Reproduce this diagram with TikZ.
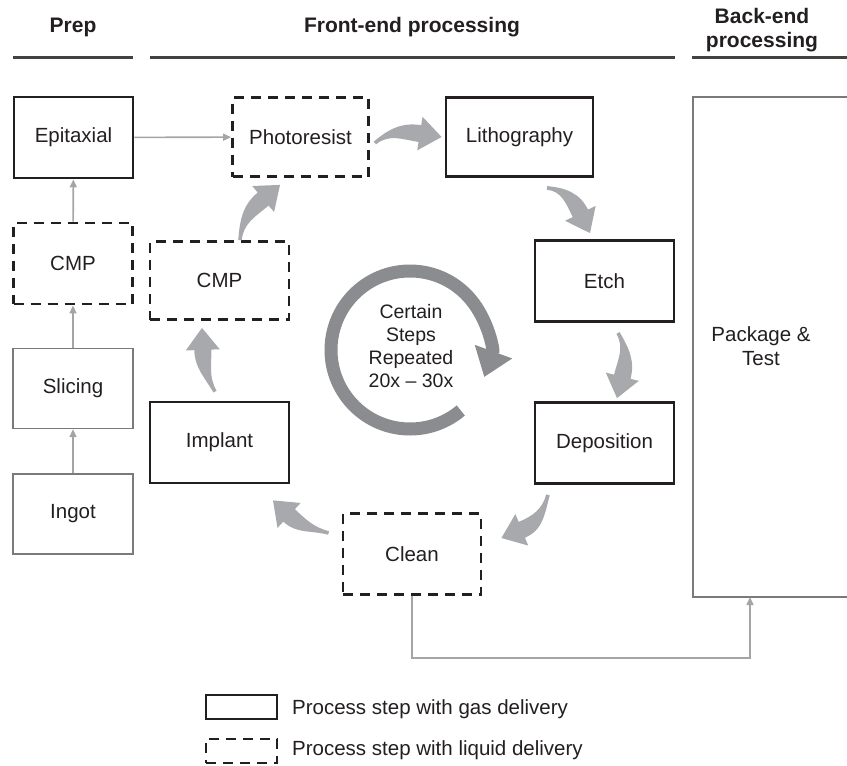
\documentclass[tikz,border=0pt]{standalone}
\usepackage{fontspec}
\setmainfont{Liberation Sans}
\usetikzlibrary{arrows.meta,calc}
\definecolor{boxblack}{HTML}{231F20}
\definecolor{fatgray}{HTML}{A7A9AC}
\definecolor{ringgray}{HTML}{8A8C8F}
\definecolor{thingray}{HTML}{A5A5A5}
\definecolor{boxgray}{HTML}{7A7A7A}
% tapered curved arrow: tail, tip, out angle, in angle
\newcommand{\fatarrow}[4]{%
  \fill[fatgray] ($#1+({#3+90}:1.8)$) to[out=#3,in=#4]
    ($#2+(#4:22)+({#4-90}:8.5)$) -- ($#2+(#4:22)+({#4-90}:17)$) -- #2 --
    ($#2+(#4:22)+({#4+90}:17)$) -- ($#2+(#4:22)+({#4+90}:8.5)$)
    to[out=#4,in=#3] ($#1+({#3-90}:1.8)$) -- cycle;}
\begin{document}
\begin{tikzpicture}[x=1pt,y=1pt,
  every node/.style={font=\fontsize{20.5}{24}\selectfont, text=boxblack, inner sep=0pt},
  gasbox/.style={draw=boxblack, line width=2.8pt, minimum width=139pt, minimum height=81pt},
  liqbox/.style={draw=boxblack, line width=2.8pt, dash pattern=on 10pt off 7pt, minimum width=139pt, minimum height=81pt},
  plainbox/.style={draw=boxgray, line width=1.3pt, minimum width=120pt, minimum height=80pt},
  header/.style={font=\fontsize{21}{24}\selectfont\bfseries, align=center},
  thinarrow/.style={draw=thingray, line width=1.6pt, -{Triangle[length=8pt,width=7pt]}},
  hline/.style={draw=boxblack!85, line width=2.2pt},
]
\useasboundingbox (0,0) rectangle (847,-766);

% headers
\node[header, anchor=base] (hprep) at (73,-32) {Prep};
\node[header, anchor=base] (hfront) at (412,-32) {Front-end processing};
\node[header] (hback) at (762,-30.6) {Back-end\\processing};
\draw[hline] (13,-57.5) -- (133,-57.5);
\draw[hline] (150,-57.5) -- (675,-57.5);
\draw[hline] (692,-57.5) -- (847,-57.5);

% prep column
\node[gasbox, minimum width=119pt] (epi) at (73.5,-137.5) {Epitaxial};
\node[liqbox, minimum width=119pt] (cmpp) at (73,-263.5) {CMP};
\node[plainbox] (slicing) at (73,-388.5) {Slicing};
\node[plainbox] (ingot) at (73,-514) {Ingot};

% front-end loop
\node[liqbox, minimum width=136pt, minimum height=79pt] (photo) at (300.5,-137) {Photoresist};
\node[gasbox, minimum width=147pt, minimum height=79pt] (litho) at (519.5,-137) {Lithography};
\node[gasbox] (etch) at (604.5,-281) {Etch};
\node[gasbox] (depo) at (604.5,-443) {Deposition};
\node[liqbox, minimum width=138pt] (clean) at (412,-554) {Clean};
\node[gasbox] (implant) at (219.5,-442.5) {Implant};
\node[liqbox, minimum height=78pt] (cmpf) at (219.5,-280.5) {CMP};

% back-end
\node[draw=boxgray, line width=1.3pt, outer sep=0pt, anchor=north west,
      minimum width=200pt, minimum height=500pt] (pkgbox) at (693,-97) {};
\node[align=center] (pkg) at (761,-346) {Package \&\\Test};

% thin connectors
\draw[thinarrow] (ingot) -- (slicing);
\draw[thinarrow] (slicing) -- (cmpp);
\draw[thinarrow] (cmpp) -- (epi);
\draw[thinarrow] (epi) -- (photo);
\coordinate (pkgin) at ($(pkgbox.south west)+(57,0)$);
\draw[thinarrow] (clean.south) |- ($(pkgin)+(0,-61)$) -- (pkgin);

% tapered process-flow arrows
\coordinate (t1) at ($(photo.east)+(5,-6)$);     \coordinate (h1) at ($(litho.west)+(-3,0)$);
\coordinate (t2) at ($(litho.south)+(27.5,-10)$); \coordinate (h2) at ($(etch.north)+(-14.5,6)$);
\coordinate (t3) at ($(etch.south)+(13.5,-10)$);  \coordinate (h3) at ($(depo.north)+(12.5,3)$);
\coordinate (t4) at ($(depo.south)+(-56.5,-10)$); \coordinate (h4) at ($(clean.east)+(19,16)$);
\coordinate (t5) at ($(clean.west)+(-13,21)$);    \coordinate (h5) at ($(implant.south)+(53.5,-16)$);
\coordinate (t6) at ($(implant.north)+(-4.5,9)$); \coordinate (h6) at ($(cmpf.south)+(-17.5,-7)$);
\coordinate (t7) at ($(cmpf.north)+(20.5,0)$);    \coordinate (h7) at ($(photo.south)+(-20.5,-7)$);
\fatarrow{(t1)}{(h1)}{40}{171}
\fatarrow{(t2)}{(h2)}{-5}{116}
\fatarrow{(t3)}{(h3)}{-60}{76}
\fatarrow{(t4)}{(h4)}{-105}{22}
\fatarrow{(t5)}{(h5)}{165}{-43}
\fatarrow{(t6)}{(h6)}{120}{-88}
\fatarrow{(t7)}{(h7)}{85}{220}

% repeat cycle
\node[align=center, font=\fontsize{19.5}{23.3}\selectfont] (rep) at (411,-346)
  {Certain\\Steps\\Repeated\\20x – 30x};
\coordinate (ringc) at (410,-350);
\draw[ringgray, line width=13pt, -{Triangle[length=27pt,width=38pt]}]
  ($(ringc)+(-50:79)$) arc[start angle=-50, end angle=-380, radius=79];

% legend
\node[gasbox, line width=2.4pt, minimum width=71pt, minimum height=24pt] (lg1) at (241.5,-707) {};
\node[liqbox, line width=2.4pt, minimum width=71pt, minimum height=24pt] (lg2) at (241.5,-751) {};
\node[anchor=base west] (lt1) at (292,-714) {Process step with gas delivery};
\node[anchor=base west] (lt2) at (292,-755) {Process step with liquid delivery};
\end{tikzpicture}
\end{document}
